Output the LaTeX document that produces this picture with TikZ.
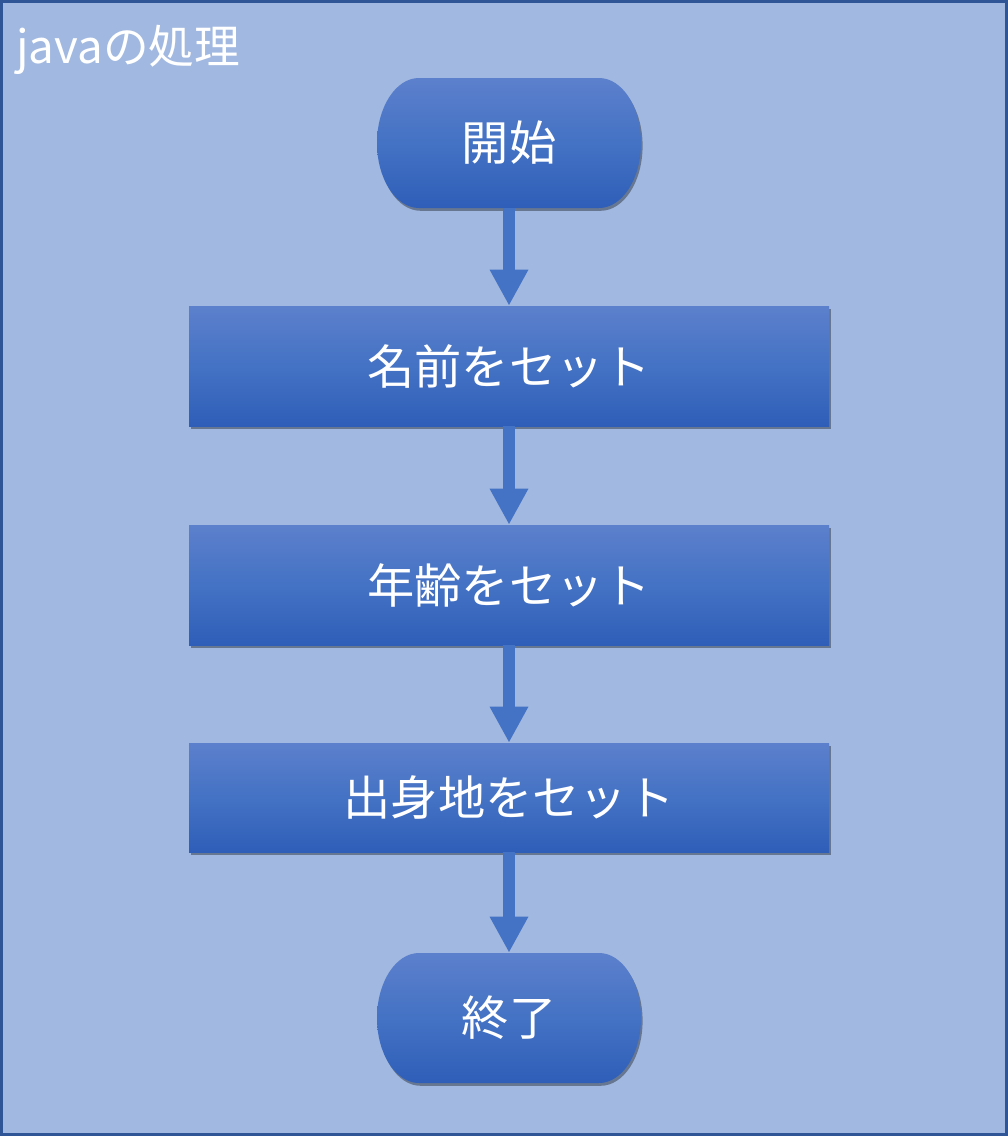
\documentclass[tikz,border=0pt]{standalone}
\usepackage{fontspec}
\setmainfont{Noto Sans CJK JP}
\usepackage{tikz}
\definecolor{panel}{RGB}{161,184,224}
\definecolor{frame}{RGB}{47,85,151}
\definecolor{boxtop}{RGB}{92,128,204}
\definecolor{boxmid}{RGB}{68,114,196}
\definecolor{boxbot}{RGB}{46,94,184}
\definecolor{flowblue}{RGB}{68,114,196}
\usetikzlibrary{arrows.meta, shadows}
\tikzset{%
  shade box/.style={top color=boxtop, bottom color=boxbot, middle color=boxmid,
    drop shadow={opacity=0.35, shadow xshift=0.04cm, shadow yshift=-0.07cm, fill=black}},% blue gradient fill
  label text/.style={text=white, font=\fontsize{33.6}{40}\selectfont},% white text
  title text/.style={text=white, font=\fontsize{32.5}{39}\selectfont},% panel title
  process/.style={shade box, label text, rectangle, minimum width=16cm,
    minimum height=3cm, inner sep=0pt},% one set step
  endpoint/.style={label text, rectangle, minimum width=6.6cm,
    minimum height=3.25cm, inner sep=0pt},% start / end text
  flow/.style={flowblue, line width=0.3cm, -{Triangle[width=0.9cm, length=0.9cm]}}% arrow between steps
}
\newcommand*{\terminal}[4]{% name, x, y, text
  \shade[shade box, shift={(#2,#3)}] (-2.25,1.625) -- (2.25,1.625)
    arc[start angle=90, end angle=-90, x radius=1.05, y radius=1.625] -- (-2.25,-1.625)
    arc[start angle=270, end angle=90, x radius=1.05, y radius=1.625] -- cycle;
  \node[endpoint] (#1) at (#2,#3) {#4};
}

\begin{document}
\begin{tikzpicture}
\useasboundingbox (0,0) rectangle (25.2,-28.4);
\fill[panel] (0,0) rectangle (25.2,-28.4);
\draw[frame, line width=0.075cm] (0.0375,-0.0375) rectangle (25.1625,-28.3625);

\node[title text, anchor=base west, inner sep=0pt] (title) at (0.4,-1.58) {javaの処理};

\terminal{start}{12.725}{-3.575}{開始}
\node[process] (name)   at (12.725, -9.15)   {名前をセット};
\node[process] (age)    at (12.725, -14.625) {年齢をセット};
\node[process, minimum height=2.725cm] (origin) at (12.725, -19.9375) {出身地をセット};
\terminal{finish}{12.725}{-25.45}{終了}

\draw[flow] (start) -- (name);
\draw[flow] (name) -- (age);
\draw[flow] (age) -- (origin);
\draw[flow] (origin) -- (finish);

\end{tikzpicture}
\end{document}
